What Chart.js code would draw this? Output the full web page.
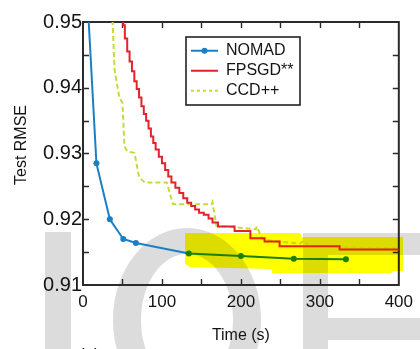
<!DOCTYPE html>
<html><head><meta charset="utf-8">
<script src="https://cdn.jsdelivr.net/npm/chart.js@4.4.1/dist/chart.umd.min.js"></script>
<style>html,body{margin:0;padding:0;background:#fff;overflow:hidden}</style>
</head><body>
<canvas id="c" width="420" height="349"></canvas>
<script>
// ---- data ----
const nomadTime = [0, 17, 34, 51, 67, 134, 200, 267, 333];
const nomadRmse = [0.966, 0.9285, 0.9200, 0.9170, 0.9164, 0.9148, 0.9144, 0.9140, 0.9139];

const fpsgdTime = [46, 48, 51, 53, 56, 59, 62, 65, 68, 71, 74, 77, 80, 83, 86, 89, 92, 96, 100, 104, 108, 112, 117, 122, 127, 132, 137, 142, 147, 153, 159, 164, 171, 192, 212, 230, 249, 325, 400];
const fpsgdRmse = [0.9525, 0.9515, 0.9495, 0.9475, 0.9455, 0.9440, 0.9425, 0.9410, 0.9398, 0.9385, 0.9372, 0.9360, 0.9350, 0.9338, 0.9326, 0.9316, 0.9306, 0.9295, 0.9285, 0.9275, 0.9265, 0.9256, 0.9248, 0.9240, 0.9232, 0.9225, 0.9220, 0.9215, 0.9210, 0.9207, 0.9201, 0.9195, 0.9189, 0.9182, 0.9171, 0.9166, 0.9159, 0.9154, 0.9154];

const ccdTime = [36, 37.5, 40, 46, 50, 52.5, 56, 65, 67, 71, 78, 106, 114, 163, 164, 169, 219, 220, 227, 240, 275, 280, 285, 340, 400];
const ccdRmse = [0.9515, 0.9500, 0.9427, 0.9385, 0.9377, 0.9311, 0.9303, 0.9301, 0.9290, 0.9264, 0.9256, 0.9256, 0.9223, 0.9223, 0.9226, 0.9190, 0.9185, 0.9189, 0.9170, 0.9167, 0.9163, 0.9168, 0.9160, 0.9157, 0.9156];

const seriesNames = ['NOMAD', 'FPSGD**', 'CCD++'];
const xTickLabels = [0, 100, 200, 300, 400];
const yTickLabels = [0.91, 0.92, 0.93, 0.94, 0.95];
const xTickMarks = [50, 100, 150, 200, 250, 300, 350];
const yTickMarks = [0.915, 0.92, 0.925, 0.93, 0.935, 0.94, 0.945];

// ---- styling ----
const FONT = "'Liberation Sans', Arial, sans-serif";
const TXT = '#141414';
const toPts = (xs, ys) => xs.map((x, i) => ({x: x, y: ys[i]}));

const decor = {
  id: 'decor',
  beforeDraw(chart) {
    const ctx = chart.ctx;
    ctx.save();
    ctx.fillStyle = '#fff';
    ctx.fillRect(0, 0, chart.width, chart.height);
    // background watermark letters
    ctx.fillStyle = '#dcdcdc';
    ctx.fillRect(45, 232, 26, 130);
    ctx.beginPath();
    ctx.ellipse(187, 320, 74, 92, 0, 0, Math.PI * 2);
    ctx.ellipse(187, 320, 46, 66, 0, 0, Math.PI * 2);
    ctx.fill('evenodd');
    ctx.fillRect(303, 233, 25, 130);
    ctx.fillRect(303, 233, 130, 22);
    ctx.fillRect(328, 318, 100, 22);
    ctx.restore();
  },
  afterLayout(chart) {
    const lg = chart.legend;
    if (lg) {
      lg.left = 187; lg.top = 38.7; lg.width = 113; lg.height = 70;
      lg.right = lg.left + lg.width; lg.bottom = lg.top + lg.height;
    }
  },
  beforeDatasetsDraw(chart) {
    const ctx = chart.ctx, a = chart.chartArea, xs = chart.scales.x, ys = chart.scales.y;
    ctx.save();
    ctx.strokeStyle = '#2b2b2b';
    ctx.lineWidth = 1.4;
    ctx.beginPath();
    xTickMarks.forEach(t => {
      const px = Math.round(xs.getPixelForValue(t)) + 0.5;
      ctx.moveTo(px, a.bottom); ctx.lineTo(px, a.bottom - 6);
      ctx.moveTo(px, a.top); ctx.lineTo(px, a.top + 6);
    });
    yTickMarks.forEach(v => {
      const py = Math.round(ys.getPixelForValue(v)) + 0.5;
      ctx.moveTo(a.left, py); ctx.lineTo(a.left + 6, py);
      ctx.moveTo(a.right, py); ctx.lineTo(a.right - 6, py);
    });
    ctx.stroke();
    ctx.lineWidth = 2;
    ctx.strokeRect(a.left, a.top, a.right - a.left, a.bottom - a.top);
    ctx.restore();
  },
  afterDraw(chart) {
    const ctx = chart.ctx;
    ctx.save();
    // legend frame
    ctx.strokeStyle = '#222';
    ctx.lineWidth = 1.6;
    ctx.strokeRect(186, 37, 114, 68);
    // NOMAD marker on its legend sample
    const hb = chart.legend.legendHitBoxes[0];
    if (hb) {
      const ds = chart.data.datasets[0];
      ctx.fillStyle = ds.borderColor;
      ctx.beginPath();
      ctx.arc(hb.left + 27 / 2, hb.top + 8, 3, 0, Math.PI * 2);
      ctx.fill();
    }
    // y axis title
    ctx.fillStyle = TXT;
    ctx.font = '16px ' + FONT;
    ctx.textAlign = 'center';
    ctx.textBaseline = 'middle';
    ctx.translate(22, 145);
    ctx.rotate(-Math.PI / 2);
    ctx.fillText('Test RMSE', 0, 0);
    ctx.setTransform(1, 0, 0, 1, 0, 0);
    // cut-off panel label
    ctx.font = '17px ' + FONT;
    ctx.textAlign = 'left';
    ctx.textBaseline = 'alphabetic';
    ctx.fillText('(a)', 79, 360);
    // highlighter
    ctx.globalCompositeOperation = 'multiply';
    ctx.fillStyle = '#ffff00';
    ctx.beginPath();
    ctx.moveTo(185, 233); ctx.lineTo(300, 233); ctx.lineTo(302, 237); ctx.lineTo(403, 237);
    ctx.lineTo(403, 271); ctx.lineTo(392, 271); ctx.lineTo(392, 273); ctx.lineTo(272, 273);
    ctx.lineTo(272, 269); ctx.lineTo(190, 267); ctx.lineTo(185, 264);
    ctx.closePath();
    ctx.fill();
    ctx.restore();
  }
};

new Chart(document.getElementById('c'), {
  type: 'line',
  data: {
    datasets: [
      { label: seriesNames[0], data: toPts(nomadTime, nomadRmse), borderColor: '#1b7fc4', backgroundColor: '#1b7fc4',
        borderWidth: 2, pointRadius: 3, pointHoverRadius: 3, pointBorderWidth: 0, tension: 0 },
      { label: seriesNames[1], data: toPts(fpsgdTime, fpsgdRmse), borderColor: '#e3232b', backgroundColor: '#e3232b',
        borderWidth: 2, pointRadius: 0, stepped: true },
      { label: seriesNames[2], data: toPts(ccdTime, ccdRmse), borderColor: '#c8d93a', backgroundColor: '#c8d93a',
        borderWidth: 2, borderDash: [5, 3], pointRadius: 0, tension: 0 }
    ]
  },
  options: {
    responsive: false,
    animation: false,
    devicePixelRatio: 1,
    layout: { padding: { left: 0, right: 17, top: 22, bottom: 0 } },
    plugins: {
      legend: {
        position: 'chartArea', fullSize: false, align: 'start',
        labels: {
          usePointStyle: true, pointStyle: 'line', pointStyleWidth: 27, padding: 4,
          font: { family: FONT, size: 16 }, color: TXT,
          generateLabels: chart => chart.data.datasets.map((ds, i) => ({
            text: ds.label, fillStyle: ds.borderColor, strokeStyle: ds.borderColor, lineWidth: 2,
            lineDash: i === 2 ? [3, 3] : [], pointStyle: 'line', hidden: false, datasetIndex: i, fontColor: TXT
          }))
        }
      },
      tooltip: { enabled: false }
    },
    scales: {
      x: {
        type: 'linear', min: 0, max: 400,
        afterFit: s => { s.height = 64; },
        afterBuildTicks: s => { s.ticks = xTickLabels.map(v => ({value: v})); },
        ticks: { font: { family: FONT, size: 17 }, color: TXT, padding: 7, maxRotation: 0, autoSkip: false },
        grid: { display: false, drawTicks: false },
        border: { display: false },
        title: { display: true, text: 'Time (s)', font: { family: FONT, size: 16 }, color: TXT, padding: { top: 0, bottom: 4 } }
      },
      y: {
        type: 'linear', min: 0.91, max: 0.95,
        afterFit: s => { s.width = 83; },
        afterBuildTicks: s => { s.ticks = yTickLabels.map(v => ({value: v})); },
        ticks: { font: { family: FONT, size: 20 }, color: TXT, padding: 1, callback: v => v.toFixed(2) },
        grid: { display: false, drawTicks: false },
        border: { display: false }
      }
    }
  },
  plugins: [decor]
});
</script>
</body></html>
